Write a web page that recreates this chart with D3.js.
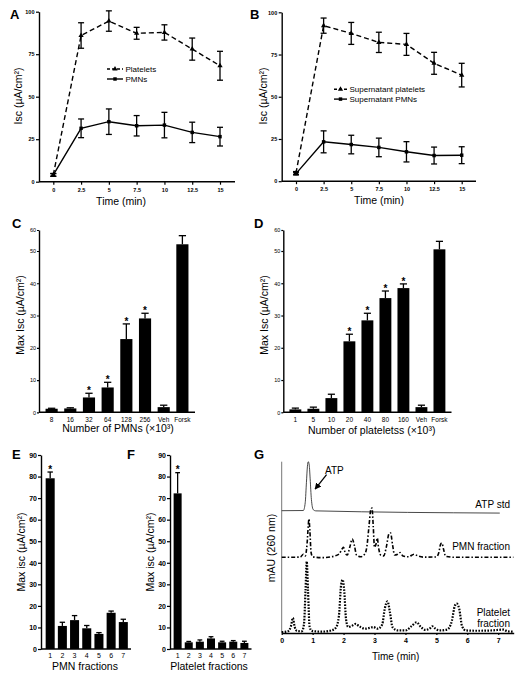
<!DOCTYPE html>
<html><head><meta charset="utf-8">
<script src="https://cdn.jsdelivr.net/npm/d3@7"></script>
<style>
body{margin:0;background:#fff}
svg{display:block}
text{font-family:"Liberation Sans",Arial,Helvetica,sans-serif;fill:#000}
</style>
</head><body>
<svg id="c" width="525" height="679"></svg>
<script>
// ---------- DATA ----------
const timeAB = [0, 2.5, 5, 7.5, 10, 12.5, 15];
const timeTickLabels = ["0", "2.5", "5", "7.5", "10", "12.5", "15"];
const iscTicksAB = [0, 25, 50, 75, 100];

const plateletsA = [4, 86, 94.5, 87.3, 87.8, 78, 68.2];
const plateletsAErr = [0.8, 7.5, 6, 3.5, 4.5, 6.5, 8.5];
const pmnsA = [4, 31.4, 35.3, 32.9, 33.3, 29, 26.5];
const pmnsAErr = [0.8, 5.5, 7.5, 6, 7.5, 6, 5.5];

const supPlateletsB = [4.9, 92.1, 87.5, 82.2, 81, 69.8, 62.8];
const supPlateletsBErr = [0.8, 4.5, 6.5, 6, 6.5, 6.5, 7];
const supPmnsB = [4.5, 23.3, 21.7, 20, 17.4, 15.2, 15.4];
const supPmnsBErr = [0.8, 6.5, 5.5, 5.5, 6, 5, 5];

const catsC = ["8", "16", "32", "64", "128", "256", "Veh", "Forsk"];
const valsC = [1.1, 1.2, 4.6, 7.7, 22.7, 29.1, 1.6, 53.2];
const errC = [0.15, 0.2, 1.3, 1.6, 4.7, 1.6, 0.6, 4.1];
const starC = [0, 0, 1, 1, 1, 1, 0, 0];

const catsD = ["1", "5", "10", "20", "40", "80", "160", "Veh", "Forsk"];
const valsD = [0.9, 1.1, 4.4, 22.0, 28.5, 35.4, 38.5, 1.6, 50.8];
const errD = [0.4, 0.5, 1.2, 2.2, 2.2, 2.2, 1.3, 0.6, 3.8];
const starD = [0, 0, 0, 1, 1, 1, 1, 0, 0];
const ticksCD = [0, 10, 20, 30, 40, 50, 60];

const fractions = ["1", "2", "3", "4", "5", "6", "7"];
const valsE = [79.2, 10.7, 13.4, 9.6, 7.0, 16.8, 12.5];
const errE = [2.9, 1.7, 2.1, 1.3, 0.6, 0.8, 1.3];
const starE = [1, 0, 0, 0, 0, 0, 0];
const valsF = [72.2, 3.1, 3.4, 4.9, 3.1, 3.4, 2.8];
const errF = [9.6, 0.4, 0.8, 0.8, 0.5, 0.5, 0.8];
const starF = [1, 0, 0, 0, 0, 0, 0];
const ticksEF = [0, 10, 20, 30, 40, 50, 60, 70, 80, 90];

// chromatograms (time in min, signal in arbitrary mAU with stacked offsets)
const atpStdT = [0, 0.70, 0.76, 0.80, 0.83, 0.86, 0.89, 0.92, 0.96, 1.02, 1.10, 7.05];
const atpStdV = [71.4, 71.5, 76, 88, 97, 100, 98, 90, 78, 72, 71.3, 70.0];
const pmnFracT = [0, 0.6, 0.70, 0.76, 0.82, 0.86, 0.88, 0.91, 0.95, 1.0, 1.3, 1.6, 1.85, 1.95, 2.0, 2.05, 2.12, 2.2, 2.28, 2.35, 2.42, 2.55, 2.68, 2.75, 2.82, 2.88, 2.92, 2.96, 3.0, 3.05, 3.09, 3.13, 3.2, 3.3, 3.38, 3.47, 3.52, 3.58, 3.65, 3.75, 3.83, 3.92, 4.1, 4.28, 4.4, 4.6, 5.0, 5.08, 5.14, 5.18, 5.23, 5.3, 5.6, 7.49];
const pmnFracV = [44.2, 44.3, 46, 45, 52, 63, 66.5, 60, 47, 44.5, 44.0, 44.5, 46, 49, 50, 47, 45.5, 50, 54.9, 51, 45.5, 44.5, 46, 50, 62, 72, 73, 62, 50, 52, 55.4, 50, 45.5, 45, 50, 58, 58.4, 52, 45.5, 46, 47, 45, 44.5, 46, 45, 44.3, 44.4, 47, 52, 52.5, 49, 44.8, 44.2, 44.2];
const pltFracT = [0, 0.2, 0.3, 0.36, 0.42, 0.5, 0.65, 0.72, 0.77, 0.81, 0.85, 0.9, 0.97, 1.3, 1.6, 1.75, 1.85, 1.92, 1.97, 2.02, 2.08, 2.15, 2.25, 2.39, 2.5, 2.7, 2.85, 2.96, 3.1, 3.25, 3.33, 3.42, 3.5, 3.58, 3.75, 4.0, 4.2, 4.36, 4.5, 4.65, 4.8, 4.87, 4.95, 5.1, 5.35, 5.5, 5.6, 5.66, 5.74, 5.83, 5.95, 6.3, 6.8, 7.17, 7.3, 7.49];
const pltFracV = [0.5, 1, 4, 8.8, 3.5, 1.2, 1, 5, 25, 41.8, 25, 4, 1.2, 0.8, 1.5, 3, 10, 28, 31.1, 25, 8, 3.5, 4, 5.3, 4, 2.5, 3.0, 3.5, 2.5, 5, 14, 18.5, 12, 3.5, 1.5, 1.5, 4, 6.2, 3.5, 1.8, 2.8, 3.9, 2.8, 1.5, 2, 7, 16, 17.1, 14, 4, 1.5, 1.3, 1.5, 2, 1, 0.8];
const timeTicksG = [0, 1, 2, 3, 4, 5, 6, 7];

// ---------- DRAWING ----------
const svg = d3.select("#c");
const FONT = '"Liberation Sans",Arial,Helvetica,sans-serif';

function label(txt, x, y, size, opts = {}) {
  const t = svg.append("text").attr("font-size", size).attr("text-anchor", opts.anchor || "middle")
    .attr("font-weight", opts.weight || "normal");
  if (opts.rotate) {
    t.attr("transform", `translate(${x},${y}) rotate(-90)`).attr("dy", "0.35em");
  } else {
    t.attr("x", x).attr("y", y);
  }
  t.text(txt);
  return t;
}
function panelLetter(L, x, y) {
  svg.append("text").attr("x", x).attr("y", y).attr("font-size", 13).attr("font-weight", 900).text(L);
}

function styleAxis(sel, opts) {
  sel.selectAll("path.domain").attr("stroke", opts.color || "#000").attr("stroke-width", opts.lw || 1.4);
  sel.selectAll(".tick line").attr("stroke", opts.color || "#000").attr("stroke-width", opts.tlw || 1.2);
  sel.selectAll(".tick text").attr("font-size", opts.fs).attr("font-weight", opts.fw || "normal")
    .attr("fill", opts.tc || "#000").attr("font-family", FONT);
}

function linePanel(o) {
  const x = d3.scaleLinear().domain([0, 15]).range([o.xl, o.xr]);
  const y = d3.scaleLinear().domain([0, 100]).range([o.yb, o.yt]);
  const g = svg.append("g");
  const ya = g.append("g").attr("transform", `translate(${o.ax},0)`)
    .call(d3.axisLeft(y).tickValues(iscTicksAB).tickSize(3).tickPadding(1.5).tickSizeOuter(0));
  styleAxis(ya, { fs: 5.5, fw: "bold" });
  const xa = g.append("g").attr("transform", `translate(0,${o.yb})`)
    .call(d3.axisBottom(x).tickValues(timeAB).tickSize(3).tickPadding(3).tickFormat((d, i) => timeTickLabels[i]));
  xa.select("path.domain").remove();
  styleAxis(xa, { fs: 5.5, fw: "bold" });
  g.append("line").attr("x1", o.ax).attr("x2", o.axEnd).attr("y1", o.yb).attr("y2", o.yb)
    .attr("stroke", "#000").attr("stroke-width", 1.4);

  o.series.forEach(s => {
    const pts = timeAB.map((t, i) => ({ t, v: s.v[i], e: s.e[i] }));
    g.append("path").datum(pts).attr("fill", "none").attr("stroke", "#000").attr("stroke-width", 1.4)
      .attr("stroke-dasharray", s.dash || null)
      .attr("d", d3.line().x(d => x(d.t)).y(d => y(d.v)));
    const eb = g.append("g").attr("stroke", "#000").attr("stroke-width", 1.3);
    pts.forEach(d => {
      eb.append("line").attr("x1", x(d.t)).attr("x2", x(d.t)).attr("y1", y(d.v - d.e)).attr("y2", y(d.v + d.e));
      [d.v - d.e, d.v + d.e].forEach(vv => eb.append("line").attr("x1", x(d.t) - 3).attr("x2", x(d.t) + 3)
        .attr("y1", y(vv)).attr("y2", y(vv)));
    });
    g.selectAll(null).data(pts).enter().append("path")
      .attr("transform", d => `translate(${x(d.t)},${y(d.v)})`)
      .attr("d", d3.symbol().type(s.sym).size(12)).attr("fill", "#000");
  });
  o.series.forEach((s, i) => {
    const ly = o.leg.y + i * o.leg.dy;
    g.append("line").attr("x1", o.leg.x).attr("x2", o.leg.x + o.leg.w).attr("y1", ly).attr("y2", ly)
      .attr("stroke", "#000").attr("stroke-width", 1.4).attr("stroke-dasharray", s.dash ? "3,2" : null);
    g.append("path").attr("transform", `translate(${o.leg.x + o.leg.w / 2},${ly})`)
      .attr("d", d3.symbol().type(s.sym).size(12)).attr("fill", "#000");
    g.append("text").attr("x", o.leg.x + o.leg.w + 2.5).attr("y", ly + 2.8).attr("font-size", 8).text(s.name);
  });
}

linePanel({
  xl: 53.3, xr: 220, yb: 181.7, yt: 11.7, ax: 39, axEnd: 235,
  leg: { x: 107, w: 16, y: 69, dy: 10 },
  series: [
    { name: "Platelets", v: plateletsA, e: plateletsAErr, dash: "5,3", sym: d3.symbolTriangle },
    { name: "PMNs", v: pmnsA, e: pmnsAErr, sym: d3.symbolSquare }
  ]
});
linePanel({
  xl: 296, xr: 461.7, yb: 181.2, yt: 12.3, ax: 281.7, axEnd: 476,
  leg: { x: 334, w: 13, y: 89.3, dy: 9.8 },
  series: [
    { name: "Supernatant platelets", v: supPlateletsB, e: supPlateletsBErr, dash: "5,3", sym: d3.symbolTriangle },
    { name: "Supernatant PMNs", v: supPmnsB, e: supPmnsBErr, sym: d3.symbolSquare }
  ]
});

function barPanel(o) {
  const x = d3.scaleBand().domain(o.cats).range([o.x0, o.x1]).padding(o.pad);
  const y = d3.scaleLinear().domain(o.yDom).range(o.yRange);
  const g = svg.append("g");
  const ya = g.append("g").attr("transform", `translate(${o.ax},0)`)
    .call(d3.axisLeft(y).tickValues(o.ticks).tickSize(o.tickLen).tickPadding(1).tickSizeOuter(0));
  styleAxis(ya, o.yStyle);
  const xa = g.append("g").attr("transform", `translate(0,${o.yRange[0]})`)
    .call(d3.axisBottom(x).tickSize(o.xTickLen).tickPadding(o.xPad));
  xa.select("path.domain").remove();
  styleAxis(xa, o.xStyle);
  g.append("line").attr("x1", o.ax).attr("x2", o.x1).attr("y1", o.yRange[0]).attr("y2", o.yRange[0])
    .attr("stroke", "#000").attr("stroke-width", 1.4);
  const data = o.cats.map((c, i) => ({ c, v: o.vals[i], e: o.err[i], s: o.star[i] }));
  const cap = x.bandwidth() * 0.3;
  data.forEach(d => {
    const cx = x(d.c) + x.bandwidth() / 2;
    g.append("line").attr("x1", cx).attr("x2", cx).attr("y1", y(d.v)).attr("y2", y(d.v + d.e))
      .attr("stroke", "#000").attr("stroke-width", 1.3);
    g.append("line").attr("x1", cx - cap).attr("x2", cx + cap).attr("y1", y(d.v + d.e)).attr("y2", y(d.v + d.e))
      .attr("stroke", "#000").attr("stroke-width", 1.3);
    if (d.s) g.append("text").attr("x", cx).attr("y", y(d.v + d.e) + 0.8).attr("text-anchor", "middle")
      .attr("font-size", 10).attr("font-weight", "bold").text("*");
  });
  g.selectAll("rect").data(data).enter().append("rect")
    .attr("x", d => x(d.c)).attr("width", x.bandwidth())
    .attr("y", d => y(d.v)).attr("height", d => y(0) - y(d.v)).attr("fill", "#000");
}

const cdY = { fs: 5.5, tc: "#333" };
const cdX = { fs: 6.5, tc: "#111" };
barPanel({ cats: catsC, vals: valsC, err: errC, star: starC, x0: 39, x1: 195, pad: 0.35, ax: 39,
  yDom: [0, 50, 60], yRange: [412.3, 251, 230], ticks: ticksCD, tickLen: 2, xTickLen: 0, xPad: 5,
  yStyle: cdY, xStyle: cdX });
barPanel({ cats: catsD, vals: valsD, err: errD, star: starD, x0: 283.3, x1: 451.5, pad: 0.34, ax: 283.3,
  yDom: [0, 50, 60], yRange: [412.3, 251, 230], ticks: ticksCD, tickLen: 2, xTickLen: 0, xPad: 5,
  yStyle: cdY, xStyle: cdX });
const efY = { fs: 7, fw: "bold" };
const efX = { fs: 7 };
barPanel({ cats: fractions, vals: valsE, err: errE, star: starE, x0: 42.5, x1: 131, pad: 0.26, ax: 41,
  yDom: [0, 90], yRange: [649, 455], ticks: ticksEF, tickLen: 3, xTickLen: 0, xPad: 4,
  yStyle: efY, xStyle: efX });
barPanel({ cats: fractions, vals: valsF, err: errF, star: starF, x0: 170.5, x1: 251.5, pad: 0.28, ax: 170,
  yDom: [0, 90], yRange: [649, 455], ticks: ticksEF, tickLen: 3, xTickLen: 0, xPad: 4,
  yStyle: efY, xStyle: efX });

// Panel G
(function () {
  const x = d3.scaleLinear().domain([0, 7.5]).range([281.7, 513.7]);
  const y = d3.scaleLinear().domain([0, 100]).range([633, 461.7]);
  const g = svg.append("g");
  g.append("line").attr("x1", x(0)).attr("x2", x(0)).attr("y1", y(100)).attr("y2", y(0))
    .attr("stroke", "#777").attr("stroke-width", 1);
  const xa = g.append("g").attr("transform", `translate(0,${y(0)})`)
    .call(d3.axisBottom(x).tickValues(timeTicksG).tickSize(2).tickPadding(3).tickSizeOuter(0));
  styleAxis(xa, { fs: 7, fw: "bold" });
  const line = d3.line().x(d => x(d[0])).y(d => y(d[1])).curve(d3.curveMonotoneX);
  g.append("path").datum(atpStdT.map((t, i) => [t, atpStdV[i]])).attr("d", line)
    .attr("fill", "none").attr("stroke", "#333").attr("stroke-width", 0.9);
  g.append("path").datum(pmnFracT.map((t, i) => [t, pmnFracV[i]])).attr("d", line)
    .attr("fill", "none").attr("stroke", "#000").attr("stroke-width", 1.6).attr("stroke-dasharray", "4,2,1.5,2");
  g.append("path").datum(pltFracT.map((t, i) => [t, pltFracV[i]])).attr("d", line)
    .attr("fill", "none").attr("stroke", "#000").attr("stroke-width", 2.2).attr("stroke-dasharray", "1.6,1.4");
  svg.append("defs").append("marker").attr("id", "ah").attr("viewBox", "0 0 10 10").attr("refX", 9).attr("refY", 5)
    .attr("markerWidth", 5).attr("markerHeight", 5).attr("orient", "auto")
    .append("path").attr("d", "M0,0 L10,5 L0,10 z").attr("fill", "#000");
  g.append("line").attr("x1", x(1.45)).attr("y1", y(92.5)).attr("x2", x(1.08)).attr("y2", y(84))
    .attr("stroke", "#000").attr("stroke-width", 1.3).attr("marker-end", "url(#ah)");
  g.append("text").attr("x", x(1.4)).attr("y", y(93)).attr("font-size", 10).text("ATP");
  g.append("text").attr("x", 510).attr("y", 507.5).attr("text-anchor", "end").attr("font-size", 10).text("ATP std");
  g.append("text").attr("x", 510).attr("y", 549.5).attr("text-anchor", "end").attr("font-size", 10).text("PMN fraction");
  g.append("text").attr("x", 510).attr("y", 616).attr("text-anchor", "end").attr("font-size", 10).text("Platelet");
  g.append("text").attr("x", 510).attr("y", 627).attr("text-anchor", "end").attr("font-size", 10).text("fraction");
})();

// axis titles
label("Isc (µA/cm²)", 18, 96, 10.5, { rotate: true });
label("Isc (µA/cm²)", 263, 96, 10.5, { rotate: true });
label("Time (min)", 121, 205, 10.5);
label("Time (min)", 379, 204, 10.5);
label("Max Isc (µA/cm²)", 20.7, 315, 10.5, { rotate: true });
label("Max Isc (µA/cm²)", 264, 315, 10.5, { rotate: true });
label("Number of PMNs (×10³)", 118, 432, 10.5);
label("Number of plateletss (×10³)", 371.7, 433.5, 10.5);
label("Max isc (µA/cm²)", 21.7, 552, 10.5, { rotate: true });
label("Max isc (µA/cm²)", 150, 552, 10.5, { rotate: true });
label("PMN fractions", 85, 670, 10.5);
label("Platelet fractions", 209, 670, 10.5);
label("mAU (260 nm)", 271.7, 548, 10.5, { rotate: true });
label("Time (min)", 395.7, 660, 10);

panelLetter("A", 10, 19);
panelLetter("B", 250, 19);
panelLetter("C", 12, 228);
panelLetter("D", 254, 228);
panelLetter("E", 12, 459);
panelLetter("F", 127, 459);
panelLetter("G", 254, 459);
</script>
</body></html>
